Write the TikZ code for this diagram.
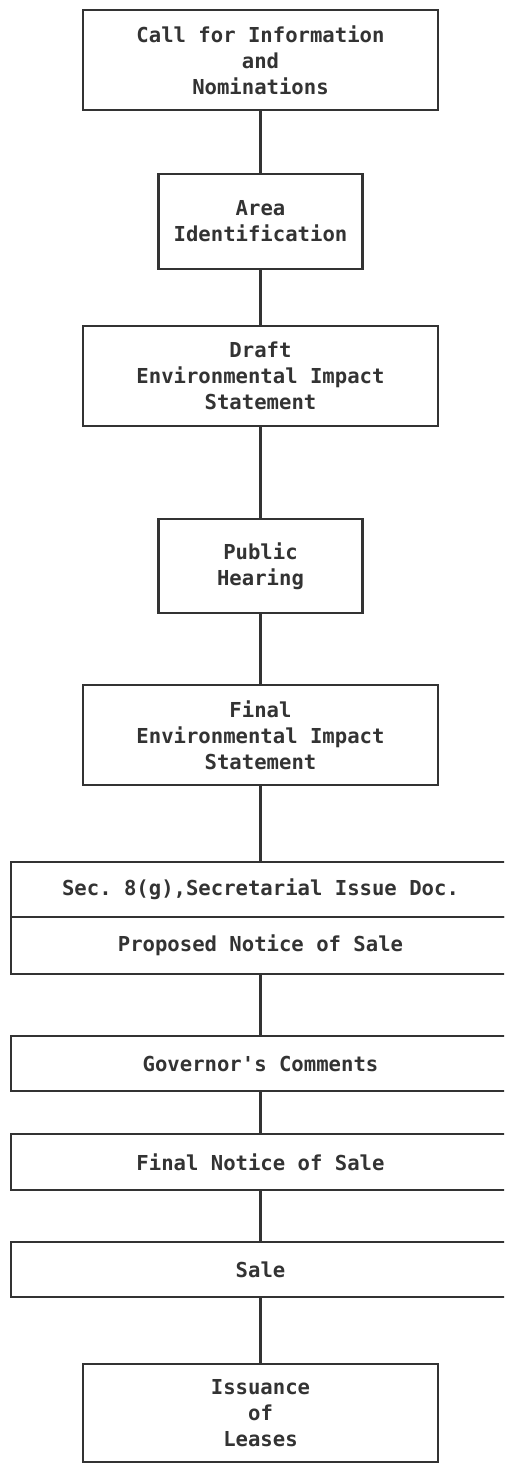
\documentclass[tikz,border=0pt]{standalone}
\usepackage{fontspec}
\setmonofont{DejaVu Sans Mono}
\usetikzlibrary{positioning}

\begin{document}
\begin{tikzpicture}[
	x = 1pt, y = 1pt,
	line width = 2.2pt,
	font = \ttfamily\bfseries\fontsize{20.6}{26}\selectfont,
	stage/.style = {draw=black!80, rectangle, align=center,
		text=black!80, inner sep=0pt, outer sep=0pt},
	broad/.style = {stage, minimum width=355pt, minimum height=100pt},
	narrow/.style = {stage, minimum width=204pt, minimum height=95pt},
	strip/.style = {stage, minimum width=499pt, minimum height=55pt},
	]
	\useasboundingbox (0,0) rectangle (504,-1464);
	\clip (0,0) rectangle (504,-1464);
	% upper stages
	\node[broad] (call) at (260.5,-60) {Call for Information\\and\\Nominations};
	\node[narrow, below=64pt of call] (area) {Area\\Identification};
	\node[broad, below=57pt of area] (draft) {Draft\\Environmental Impact\\Statement};
	\node[narrow, below=93pt of draft, minimum height=94pt] (hearing) {Public\\Hearing};
	\node[broad, below=72pt of hearing] (final) {Final\\Environmental Impact\\Statement};
	% sale stages
	\node[strip, below=77pt of final] (secdoc) {Sec. 8(g),Secretarial Issue Doc.};
	\node[strip, below=0pt of secdoc, minimum height=57pt] (propose) {Proposed Notice of Sale};
	\node[strip, below=62pt of propose] (governor) {Governor's Comments};
	\node[strip, below=43pt of governor, minimum height=56pt] (notice) {Final Notice of Sale};
	\node[strip, below=52pt of notice] (sale) {Sale};
	\node[broad, below=67pt of sale, minimum height=98pt] (lease) {Issuance\\of\\Leases};
	\foreach \a/\b in {call/area, area/draft, draft/hearing, hearing/final,
		final/secdoc, propose/governor, governor/notice, notice/sale, sale/lease}
		\draw[black!80] (\a) -- (\b);
\end{tikzpicture}
\end{document}
